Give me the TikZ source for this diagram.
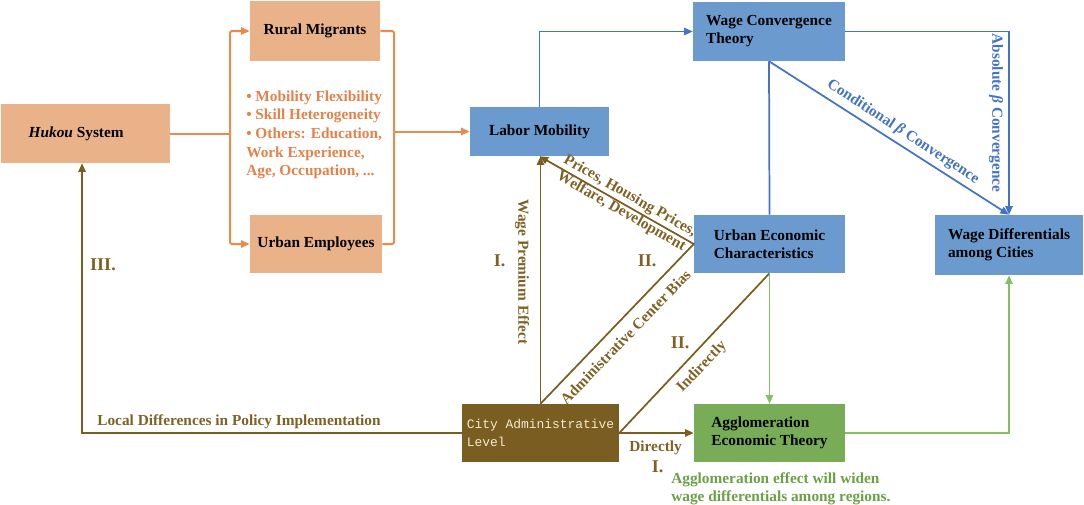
\documentclass[tikz,border=0pt]{standalone}
\usepackage{fontspec}
\setmainfont{Liberation Serif}
\newfontfamily\monof{Liberation Mono}
\usetikzlibrary{arrows.meta}
\definecolor{orfill}{HTML}{E9B289}
\definecolor{orline}{HTML}{EB8A4E}
\definecolor{ortext}{HTML}{E5824A}
\definecolor{blfill}{HTML}{6A9ACE}
\definecolor{blline}{HTML}{4472C4}
\definecolor{brown}{HTML}{7A5D20}
\definecolor{brtext}{HTML}{7E6224}
\definecolor{grfill}{HTML}{78AC56}
\definecolor{grline}{HTML}{85BE65}
\definecolor{grtext}{HTML}{6AA046}
\definecolor{cream}{HTML}{F3E9D2}
\begin{document}
\begin{tikzpicture}[x=0.75pt,y=-0.75pt,
  font=\fontsize{11.5}{13.5}\selectfont\bfseries,
  box/.style={rectangle, inner sep=0pt, align=left, text=black},
  obox/.style={box, fill=orfill},
  bbox/.style={box, fill=blfill},
  arr/.style={-{Triangle[length=6.5pt,width=5.5pt]}},
  oline/.style={draw=orline, line width=1.5pt, rounded corners=1.5pt},
  bline/.style={draw=blline, line width=1.3pt},
  brline/.style={draw=brown, line width=1.3pt},
  gline/.style={draw=grline, line width=1.2pt},
  brlab/.style={text=brtext, inner sep=0pt},
  bllab/.style={text=blline, inner sep=0pt},
  numlab/.style={text=brtext, inner sep=0pt, font=\fontsize{13.5}{15}\selectfont\bfseries}]
\useasboundingbox (0,0) rectangle (1084,504);

% boxes
\node[obox, minimum width=126.75pt, minimum height=44.25pt] (hukou) at (85.5,133.5) {\textit{Hukou} System\hspace*{14pt}};
\node[obox, minimum width=97.5pt, minimum height=45pt] (rural) at (315,31) {Rural Migrants};
\node[obox, minimum width=99pt, minimum height=43.5pt] (urban) at (316,244) {Urban Employees};
\node[bbox, minimum width=104.25pt, minimum height=36.75pt] (labor) at (539.5,131.5) {Labor Mobility};
\node[bbox, minimum width=114pt, minimum height=44.25pt] (wct) at (769,31.5) {Wage Convergence\\Theory};
\node[bbox, minimum width=113.25pt, minimum height=43.5pt] (uec) at (769.5,244) {Urban Economic\\Characteristics\hspace*{4pt}};
\node[bbox, minimum width=111pt, minimum height=45pt] (wdc) at (1009,245) {Wage Differentials\\among Cities};
\node[box, fill=brown, text=cream, minimum width=117.75pt, minimum height=43.5pt,
      font=\monof\fontsize{9.7}{13.5}\selectfont] (cal) at (540.5,433) {City Administrative\\Level};
\node[box, fill=grfill, minimum width=113.25pt, minimum height=43.5pt] (aet) at (769.5,433) {Agglomeration\\Economic Theory};

% orange text
\node[anchor=north west, align=left, text=ortext, inner sep=0pt,
      font=\fontsize{11.5}{13.9}\selectfont\bfseries] (otext) at (246,90.5)
  {• Mobility Flexibility\\• Skill Heterogeneity\\• Others: Education,\\Work Experience,\\Age, Occupation, ...};

% orange connectors
\coordinate (os) at (230,133.5);
\coordinate (oc) at (394,131.5);
\draw[oline] (hukou.east) -- (os);
\draw[oline, arr] (os) |- (rural.west);
\draw[oline, arr] (os) |- (urban.west);
\draw[oline] (rural.east) -| (oc);
\draw[oline] (urban.east) -| (oc);
\draw[oline, arr] (oc) -- (labor.west);

% blue connectors
\draw[bline, arr] (labor.north) |- (wct.west);
\draw[bline, arr] (wct.east) -| (wdc.north);
\draw[bline] (wct.south) -- (uec.north);
\draw[bline, arr] (wct.south) -- (wdc.north);
\node[bllab, rotate=-90] (abs) at (996,113) {Absolute \textit{β} Convergence};
\node[bllab, rotate=-33.1] (cond) at (903,132) {Conditional \textit{β} Convergence};

% brown connectors
\draw[brline, arr] (cal.north) -- (cal.north |- labor.south);
\draw[brline, arr] (cal.north) -- (uec.west) -- (labor.south);
\draw[brline] (cal.east) -- (uec.south);
\draw[brline, arr] (cal.east) -- (aet.west);
\draw[brline, arr] (cal.west) -| ([xshift=-2.6pt]hukou.south);

\node[brlab, rotate=-90] (wpe) at (522,272) {Wage Premium Effect};
\node[numlab] (n1) at (499.5,261) {I.};
\node[brlab, rotate=-29.7, align=center, font=\fontsize{11.5}{13.2}\selectfont\bfseries] (prices) at (625.5,204) {Prices, Housing Prices,\\Welfare, Development};
\node[numlab] (n2) at (647,261) {II.};
\node[brlab, rotate=45.9] (acb) at (625.5,337) {Administrative Center Bias};
\node[numlab] (n3) at (680,343) {II.};
\node[brlab, rotate=46.3] (ind) at (702,367) {Indirectly};
\node[brlab] (dir) at (655.6,448.3) {Directly};
\node[numlab] (n4) at (657.7,466.7) {I.};
\node[numlab] (n5) at (103,265) {III.};
\node[brlab] (ldp) at (239,422) {Local Differences in Policy Implementation};

% green connectors
\draw[gline, arr] (uec.south) -- (aet.north);
\draw[gline, arr] (aet.east) -| (wdc.south);
\node[anchor=north west, align=left, text=grtext, inner sep=0pt,
      font=\fontsize{11.5}{13.5}\selectfont\bfseries] (gtext) at (671,472)
  {Agglomeration effect will widen\\wage differentials among regions.};
\end{tikzpicture}
\end{document}
